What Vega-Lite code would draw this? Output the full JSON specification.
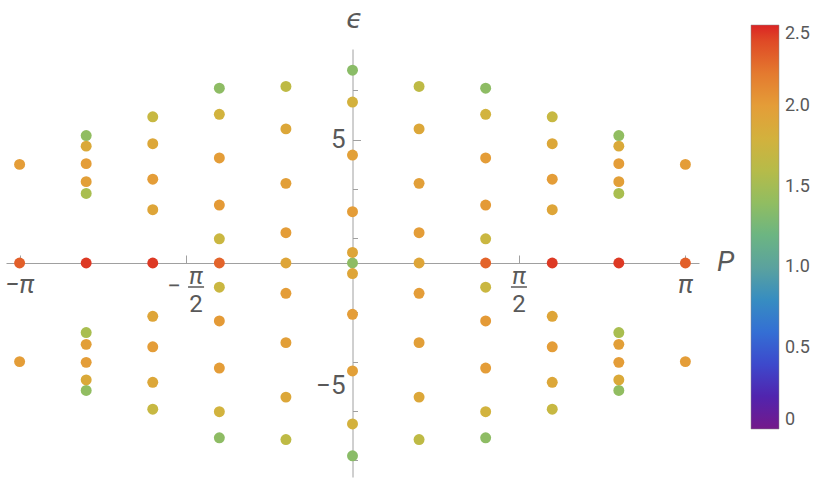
{
  "$schema": "https://vega.github.io/schema/vega-lite/v6.json",
  "autosize": {"type": "none"},
  "width": 693,
  "height": 428,
  "padding": {"left": 6, "top": 49, "right": 131, "bottom": 7},
  "config": {"view": {"stroke": null}, "font": "Roboto"},
  "layer": [
    {
      "data": {"values": [
        {"p": -3.1416, "e": 0, "c": 2.32}, {"p": -3.1416, "e": 4.0, "c": 2.0}, {"p": -3.1416, "e": -4.0, "c": 2.0},
        {"p": 3.1416, "e": 0, "c": 2.32}, {"p": 3.1416, "e": 4.0, "c": 2.0}, {"p": 3.1416, "e": -4.0, "c": 2.0},
        {"p": -2.5133, "e": 0, "c": 2.45}, {"p": -2.5133, "e": 5.17, "c": 1.4}, {"p": -2.5133, "e": 4.74, "c": 1.88}, {"p": -2.5133, "e": 4.03, "c": 2.0}, {"p": -2.5133, "e": 3.30, "c": 1.98}, {"p": -2.5133, "e": 2.82, "c": 1.52},
        {"p": -2.5133, "e": -5.17, "c": 1.4}, {"p": -2.5133, "e": -4.74, "c": 1.88}, {"p": -2.5133, "e": -4.03, "c": 2.0}, {"p": -2.5133, "e": -3.30, "c": 1.98}, {"p": -2.5133, "e": -2.82, "c": 1.52},
        {"p": 2.5133, "e": 0, "c": 2.45}, {"p": 2.5133, "e": 5.17, "c": 1.4}, {"p": 2.5133, "e": 4.74, "c": 1.88}, {"p": 2.5133, "e": 4.03, "c": 2.0}, {"p": 2.5133, "e": 3.30, "c": 1.98}, {"p": 2.5133, "e": 2.82, "c": 1.52},
        {"p": 2.5133, "e": -5.17, "c": 1.4}, {"p": 2.5133, "e": -4.74, "c": 1.88}, {"p": 2.5133, "e": -4.03, "c": 2.0}, {"p": 2.5133, "e": -3.30, "c": 1.98}, {"p": 2.5133, "e": -2.82, "c": 1.52},
        {"p": -1.885, "e": 0, "c": 2.45}, {"p": -1.885, "e": 5.93, "c": 1.7}, {"p": -1.885, "e": 4.84, "c": 1.9}, {"p": -1.885, "e": 3.40, "c": 2.0}, {"p": -1.885, "e": 2.16, "c": 1.92},
        {"p": -1.885, "e": -5.93, "c": 1.7}, {"p": -1.885, "e": -4.84, "c": 1.9}, {"p": -1.885, "e": -3.40, "c": 2.0}, {"p": -1.885, "e": -2.16, "c": 1.92},
        {"p": 1.885, "e": 0, "c": 2.45}, {"p": 1.885, "e": 5.93, "c": 1.7}, {"p": 1.885, "e": 4.84, "c": 1.9}, {"p": 1.885, "e": 3.40, "c": 2.0}, {"p": 1.885, "e": 2.16, "c": 1.92},
        {"p": 1.885, "e": -5.93, "c": 1.7}, {"p": 1.885, "e": -4.84, "c": 1.9}, {"p": 1.885, "e": -3.40, "c": 2.0}, {"p": 1.885, "e": -2.16, "c": 1.92},
        {"p": -1.2566, "e": 0, "c": 2.3}, {"p": -1.2566, "e": 7.09, "c": 1.38}, {"p": -1.2566, "e": 6.03, "c": 1.78}, {"p": -1.2566, "e": 4.26, "c": 2.0}, {"p": -1.2566, "e": 2.35, "c": 2.02}, {"p": -1.2566, "e": 0.98, "c": 1.72},
        {"p": -1.2566, "e": -7.09, "c": 1.38}, {"p": -1.2566, "e": -6.03, "c": 1.78}, {"p": -1.2566, "e": -4.26, "c": 2.0}, {"p": -1.2566, "e": -2.35, "c": 2.02}, {"p": -1.2566, "e": -0.98, "c": 1.72},
        {"p": 1.2566, "e": 0, "c": 2.3}, {"p": 1.2566, "e": 7.09, "c": 1.38}, {"p": 1.2566, "e": 6.03, "c": 1.78}, {"p": 1.2566, "e": 4.26, "c": 2.0}, {"p": 1.2566, "e": 2.35, "c": 2.02}, {"p": 1.2566, "e": 0.98, "c": 1.72},
        {"p": 1.2566, "e": -7.09, "c": 1.38}, {"p": 1.2566, "e": -6.03, "c": 1.78}, {"p": 1.2566, "e": -4.26, "c": 2.0}, {"p": 1.2566, "e": -2.35, "c": 2.02}, {"p": 1.2566, "e": -0.98, "c": 1.72},
        {"p": -0.6283, "e": 0, "c": 1.92}, {"p": -0.6283, "e": 7.16, "c": 1.65}, {"p": -0.6283, "e": 5.44, "c": 1.9}, {"p": -0.6283, "e": 3.23, "c": 1.98}, {"p": -0.6283, "e": 1.23, "c": 2.0},
        {"p": -0.6283, "e": -7.16, "c": 1.65}, {"p": -0.6283, "e": -5.44, "c": 1.9}, {"p": -0.6283, "e": -3.23, "c": 1.98}, {"p": -0.6283, "e": -1.23, "c": 2.0},
        {"p": 0.6283, "e": 0, "c": 1.92}, {"p": 0.6283, "e": 7.16, "c": 1.65}, {"p": 0.6283, "e": 5.44, "c": 1.9}, {"p": 0.6283, "e": 3.23, "c": 1.98}, {"p": 0.6283, "e": 1.23, "c": 2.0},
        {"p": 0.6283, "e": -7.16, "c": 1.65}, {"p": 0.6283, "e": -5.44, "c": 1.9}, {"p": 0.6283, "e": -3.23, "c": 1.98}, {"p": 0.6283, "e": -1.23, "c": 2.0},
        {"p": 0, "e": 0, "c": 1.38}, {"p": 0, "e": 0.43, "c": 1.92}, {"p": 0, "e": 2.08, "c": 2.0}, {"p": 0, "e": 4.38, "c": 1.97}, {"p": 0, "e": 6.53, "c": 1.8}, {"p": 0, "e": 7.82, "c": 1.36},
        {"p": 0, "e": -0.43, "c": 1.92}, {"p": 0, "e": -2.08, "c": 2.0}, {"p": 0, "e": -4.38, "c": 1.97}, {"p": 0, "e": -6.53, "c": 1.8}, {"p": 0, "e": -7.82, "c": 1.36}
      ]},
      "mark": {"type": "circle", "size": 120, "opacity": 1},
      "encoding": {
        "x": {"field": "p", "type": "quantitative",
          "scale": {"domain": [-3.27, 3.27], "nice": false, "zero": false},
          "axis": {"title": null, "orient": "bottom", "offset": -214, "grid": false,
            "values": [-3.14159, -1.5708, 1.5708, 3.14159], "labels": false,
            "domainColor": "#A0A0A0", "tickColor": "#A0A0A0", "tickSize": -8, "domainWidth": 1, "tickWidth": 1}},
        "y": {"field": "e", "type": "quantitative",
          "scale": {"domain": [-8.68, 8.68], "nice": false, "zero": false},
          "axis": {"title": null, "orient": "left", "offset": -346.5, "grid": false,
            "values": [-8, -7, -6, -5, -4, -3, -2, -1, 1, 2, 3, 4, 5, 6, 7, 8],
            "labels": false,
            "domainColor": "#A0A0A0", "tickColor": "#A0A0A0",
            "tickSize": {"condition": {"test": "abs(datum.value) == 5", "value": -8}, "value": -5}}},
        "color": {"field": "c", "type": "quantitative",
          "scale": {"domain": [0, 0.25, 0.5, 0.75, 1.0, 1.25, 1.5, 1.75, 2.0, 2.25, 2.5],
            "range": ["#74198A", "#3F28B8", "#3E5DD8", "#4785C6", "#5BA29E", "#79B877", "#A6BE52", "#CFB640", "#E49D38", "#E4702F", "#DB2424"]},
          "legend": {"title": null, "orient": "none", "legendX": 745, "legendY": -24, "direction": "vertical",
            "gradientLength": 404, "gradientThickness": 28, "gradientStrokeColor": "#888", "gradientStrokeWidth": 0.5,
            "values": [0, 0.5, 1, 1.5, 2, 2.5],
            "labelExpr": "datum.value == 0 ? '0' : format(datum.value, '.1f')",
            "labelFontSize": 18, "labelColor": "#595959", "labelOffset": 6, "labelFont": "Roboto", "labelOverlap": false}}
      }
    },
    {
      "data": {"values": [{"e": 5, "t": "5"}, {"e": -5, "t": "−5"}]},
      "mark": {"type": "text", "fontSize": 26, "color": "#595959", "baseline": "middle", "align": "right", "dx": -7},
      "encoding": {"x": {"datum": 0}, "y": {"field": "e", "type": "quantitative"}, "text": {"field": "t"}}
    },
    {
      "data": {"values": [{"p": -3.14159, "t": "−π"}, {"p": 3.14159, "t": "π"}]},
      "mark": {"type": "text", "fontSize": 26, "fontStyle": "italic", "color": "#595959", "baseline": "middle", "align": "center", "dy": 22},
      "encoding": {"x": {"field": "p", "type": "quantitative"}, "y": {"datum": 0}, "text": {"field": "t"}}
    },
    {
      "data": {"values": [{"p": -1.5708, "num": "π", "den": "2", "sgn": "−"}]},
      "encoding": {"x": {"field": "p", "type": "quantitative"}, "y": {"datum": 0}},
      "layer": [
        {"mark": {"type": "text", "fontSize": 24, "fontStyle": "italic", "color": "#595959", "baseline": "middle", "align": "center", "dx": 10, "dy": 14}, "encoding": {"text": {"field": "num"}}},
        {"mark": {"type": "text", "fontSize": 24, "color": "#595959", "baseline": "middle", "align": "center", "dx": 10, "dy": 42}, "encoding": {"text": {"field": "den"}}},
        {"mark": {"type": "text", "fontSize": 24, "color": "#595959", "baseline": "middle", "align": "center", "dx": -12, "dy": 24}, "encoding": {"text": {"field": "sgn"}}},
        {"mark": {"type": "rule", "color": "#595959", "strokeWidth": 1.5, "xOffset": 2, "x2Offset": 18, "yOffset": 24}, "encoding": {"x2": {"field": "p"}}}
      ]
    },
    {
      "data": {"values": [{"p": 1.5708, "num": "π", "den": "2"}]},
      "encoding": {"x": {"field": "p", "type": "quantitative"}, "y": {"datum": 0}},
      "layer": [
        {"mark": {"type": "text", "fontSize": 24, "fontStyle": "italic", "color": "#595959", "baseline": "middle", "align": "center", "dx": 0, "dy": 14}, "encoding": {"text": {"field": "num"}}},
        {"mark": {"type": "text", "fontSize": 24, "color": "#595959", "baseline": "middle", "align": "center", "dx": 0, "dy": 42}, "encoding": {"text": {"field": "den"}}},
        {"mark": {"type": "rule", "color": "#595959", "strokeWidth": 1.5, "xOffset": -8, "x2Offset": 8, "yOffset": 24}, "encoding": {"x2": {"field": "p"}}}
      ]
    },
    {
      "data": {"values": [{"p": 3.27, "lab": "P"}]},
      "mark": {"type": "text", "fontSize": 28, "fontStyle": "italic", "color": "#595959", "baseline": "middle", "align": "left", "dx": 18},
      "encoding": {"x": {"field": "p", "type": "quantitative"}, "y": {"datum": 0}, "text": {"field": "lab"}}
    },
    {
      "data": {"values": [{"p": 0, "lab": "ϵ"}]},
      "mark": {"type": "text", "fontSize": 27, "fontStyle": "italic", "font": "DejaVu Sans", "color": "#595959", "baseline": "alphabetic", "align": "center", "dx": 2, "dy": -21},
      "encoding": {"x": {"field": "p", "type": "quantitative"}, "y": {"datum": 8.68}, "text": {"field": "lab"}}
    }
  ]
}
